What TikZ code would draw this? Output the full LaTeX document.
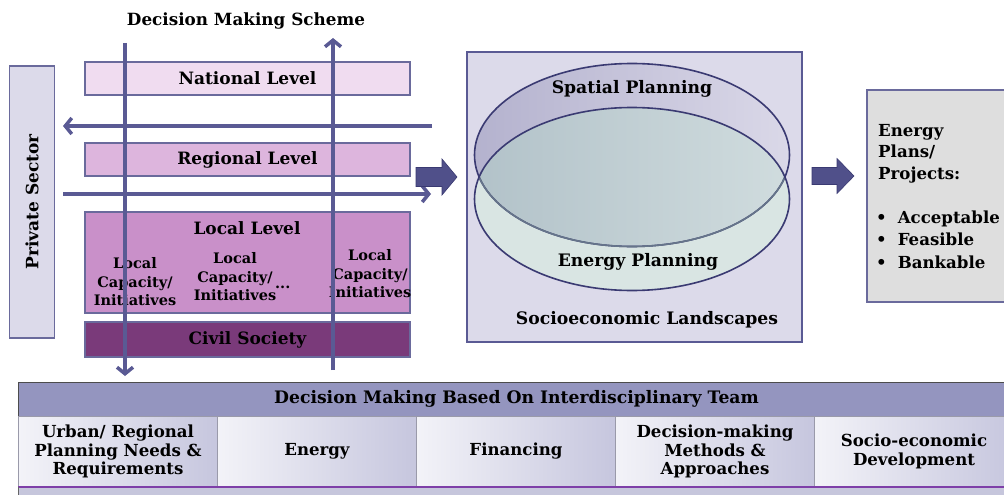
\documentclass[tikz,border=0pt]{standalone}
\usepackage{fontspec}
\setmainfont{DejaVu Serif}
\usetikzlibrary{arrows.meta}
\definecolor{flow}{HTML}{5A5A94}
\definecolor{boxline}{HTML}{6A6A9C}
\definecolor{natfill}{HTML}{F0DCF0}
\definecolor{regfill}{HTML}{DDB5DD}
\definecolor{locfill}{HTML}{C990C9}
\definecolor{civfill}{HTML}{7A3A7A}
\definecolor{lavbg}{HTML}{DCDAEA}
\definecolor{topL}{HTML}{B4B2CE}
\definecolor{topR}{HTML}{DAD8E8}
\definecolor{botfill}{HTML}{D9E5E3}
\definecolor{ovL}{HTML}{B2C2C9}
\definecolor{ovR}{HTML}{D0DCDE}
\definecolor{ellline}{HTML}{3A3A72}
\definecolor{ellinner}{HTML}{66758A}
\definecolor{blockfill}{HTML}{50508A}
\definecolor{greyfill}{HTML}{DEDEDE}
\definecolor{hdrfill}{HTML}{9495BF}
\definecolor{cellL}{HTML}{F3F3F8}
\definecolor{cellR}{HTML}{C6C6DE}
\definecolor{cellline}{HTML}{9A9AAA}
\definecolor{stripe}{HTML}{7E3FA8}
\definecolor{stripefill}{HTML}{C6C6DC}
\tikzset{
  flowarrow/.style={draw=flow, line width=3.5pt, -{Straight Barb[length=6.5pt,width=16pt]}},
  lvlbox/.style={draw=boxline, line width=1.5pt, minimum width=325pt, inner sep=0pt,
    font=\bfseries\fontsize{17}{20}\selectfont},
  lbl/.style={font=\bfseries\fontsize{17.2}{20}\selectfont, inner sep=0pt},
  small/.style={font=\bfseries\fontsize{14.5}{18.5}\selectfont, align=center, inner sep=0pt},
  blockarrow/.style={fill=blockfill, draw=ellline, line width=0.6pt, line join=miter},
  cell/.style={draw=cellline, line width=0.8pt, left color=cellL, right color=cellR,
    minimum width=199pt, minimum height=71pt, inner sep=0pt, align=center,
    font=\bfseries\fontsize{16.6}{18.5}\selectfont},
}
\begin{document}
\begin{tikzpicture}[x=1pt,y=-1pt]
\clip (0,0) rectangle (1004,495);
\fill[white] (0,0) rectangle (1004,495);

% title
\node[font=\bfseries\fontsize{16.8}{20}\selectfont, inner sep=0pt] (title) at (246,21) {Decision Making Scheme};

% private sector
\node[draw=boxline, line width=1.5pt, fill=lavbg, minimum width=45pt, minimum height=272pt, inner sep=0pt] (priv) at (32,202) {};
\node[font=\bfseries\fontsize{17}{20}\selectfont, rotate=90, inner sep=0pt] (privt) at (priv.center) {Private Sector};

% levels
\node[lvlbox, fill=natfill, minimum height=33pt] (nat) at (247.5,78.5) {National Level};
\node[lvlbox, fill=regfill, minimum height=33pt] (reg) at (247.5,159.5) {Regional Level};
\node[lvlbox, fill=locfill, minimum height=101pt] (loc) at (247.5,262.5) {};
\node[font=\bfseries\fontsize{17}{20}\selectfont, inner sep=0pt] (loct) at (247,228) {Local Level};
\node[small] (lc1) at (135,282) {Local\\Capacity/\\Initiatives};
\node[small] (lc2) at (235,277) {Local\\Capacity/\\Initiatives};
\node[small, anchor=west] (dots) at (275,287) {...};
\node[small] (lc3) at (370,274) {Local\\Capacity/\\Initiatives};
\node[lvlbox, fill=civfill, minimum height=35pt] (civ) at (247.5,339.5) {Civil Society};

% horizontal arrows
\coordinate (hl1) at (432,126);
\coordinate (hl2) at (63,126);
\draw[flowarrow] (hl1) -- (hl2);
\coordinate (hr1) at (63,194);
\coordinate (hr2) at (431,194);
\draw[flowarrow] (hr1) -- (hr2);

% vertical arrows
\coordinate (vd1) at (125,43);
\coordinate (vd2) at (125,376);
\draw[flowarrow] (vd1) -- (vd2);
\coordinate (vu1) at (333,370);
\coordinate (vu2) at (333,38);
\draw[flowarrow] (vu1) -- (vu2);

% block arrows
\coordinate (ba1) at (416,177);
\draw[blockarrow] (ba1) ++(0,-9.5) -- ++(26,0) -- ++(0,-8.5) -- (457,177) -- (442,195) -- ++(0,-8.5) -- ++(-26,0) -- cycle;
\coordinate (ba2) at (812,176);
\draw[blockarrow] (ba2) ++(0,-8.5) -- ++(25,0) -- ++(0,-9) -- (854,176) -- (837,193.5) -- ++(0,-9) -- ++(-25,0) -- cycle;

% central box
\node[draw=flow, line width=1.5pt, fill=lavbg, minimum width=335pt, minimum height=290pt, inner sep=0pt] (cen) at (634.5,197) {};
\shade[left color=topL, right color=topR] (632,155) ellipse [x radius=157.5, y radius=91.5];
\fill[botfill] (632,199) ellipse [x radius=157.5, y radius=91.5];
\begin{scope}
  \clip (632,155) ellipse [x radius=157.5, y radius=91.5];
  \shade[left color=ovL, right color=ovR] (632,199) ellipse [x radius=157.5, y radius=91.5];
\end{scope}
\draw[ellline, line width=1.6pt] (632,155) ellipse [x radius=157.5, y radius=91.5];
\begin{scope}
  \clip (632,199) ellipse [x radius=157.5, y radius=91.5];
  \draw[ellinner, line width=1.6pt] (632,155) ellipse [x radius=157.5, y radius=91.5];
\end{scope}
\draw[ellline, line width=1.6pt] (632,199) ellipse [x radius=157.5, y radius=91.5];
\node[lbl] (sp) at (632,89) {Spatial Planning};
\node[lbl] (ep) at (638,262) {Energy Planning};
\node[lbl] (sl) at (647,320) {Socioeconomic Landscapes};

% right box
\node[draw=boxline, line width=1.5pt, fill=greyfill, minimum width=150pt, minimum height=212pt, inner sep=0pt] (res) at (942,196) {};
\node[font=\bfseries\fontsize{16.6}{21.5}\selectfont, align=left, anchor=west, inner sep=0pt] (rest) at (878,153.5) {Energy\\Plans/\\Projects:};
\node[font=\bfseries\fontsize{16.6}{22.5}\selectfont, anchor=west, inner sep=0pt] (bul) at (876,241)
  {\begin{tabular}{@{}l@{\hspace{11pt}}l@{}}\textbullet & Acceptable\\ \textbullet & Feasible\\ \textbullet & Bankable\end{tabular}};

% bottom table
\node[draw=black!70, line width=1pt, fill=hdrfill, minimum width=997pt, minimum height=34pt, inner sep=0pt,
  font=\bfseries\fontsize{17.2}{20}\selectfont] (hdr) at (516.5,399) {Decision Making Based On Interdisciplinary Team};
\node[cell] (c1) at (118,451.5) {Urban/ Regional\\Planning Needs \&\\Requirements};
\node[cell] (c2) at (317,451.5) {Energy};
\node[cell] (c3) at (516,451.5) {Financing};
\node[cell] (c4) at (715,451.5) {Decision-making\\Methods \&\\Approaches};
\node[cell] (c5) at (914,451.5) {Socio-economic\\Development};
\fill[stripefill] (18,487) rectangle (1015,500);
\draw[stripe, line width=2pt] (18,487) -- (1015,487);
\draw[black!60, line width=1pt] (18,487) -- (18,500);
\end{tikzpicture}
\end{document}
